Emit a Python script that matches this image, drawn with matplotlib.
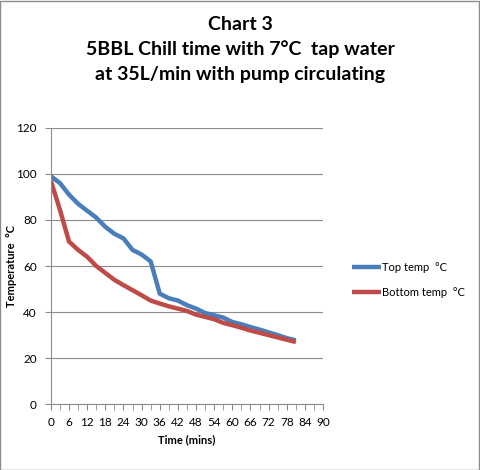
import matplotlib
matplotlib.use("Agg")
import matplotlib.pyplot as plt
import numpy as np

plt.rcParams['font.family'] = ['Lato', 'DejaVu Sans']

# data, one reading every 3 minutes
time_mins = [0, 3, 6, 9, 12, 15, 18, 21, 24, 27, 30, 33, 36, 39, 42, 45, 48, 51,
             54, 57, 60, 63, 66, 69, 72, 75, 78, 81]
top_temp = [99, 96, 91, 87, 84, 81, 77, 74, 72, 67, 65, 62, 48, 46, 45, 43, 41.5, 39.6,
            38.6, 37.6, 35.7, 34.7, 33.5, 32.4, 31.2, 30, 28.7, 27.7]
bottom_temp = [97, 84.4, 70.6, 67, 64, 60, 57, 54, 51.7, 49.5, 47.3, 45, 43.7, 42.5, 41.5,
               40.5, 38.9, 37.9, 36.9, 35.3, 34.3, 33.2, 32, 31, 30, 29, 28, 27]
x_tick_labels = [str(v) for v in range(0, 91, 6)]

fig = plt.figure(figsize=(4.8, 4.7), dpi=100)
ax = fig.add_axes([0.106, 0.140, 0.567, 0.588])

ax.plot(time_mins, top_temp, color="#4A7EBB", lw=3.2, label="Top temp  °C",
        solid_capstyle="butt")
ax.plot(time_mins, bottom_temp, color="#BE4B48", lw=3.2, label="Bottom temp  °C",
        solid_capstyle="butt")

ax.set_xlim(0, 90)
ax.set_ylim(0, 120)
ax.set_yticks(np.arange(0, 121, 20))
ax.set_xticks(np.arange(0, 91, 6))
ax.set_xticklabels(x_tick_labels)
ax.set_xticks(np.arange(0, 91, 3), minor=True)

ax.grid(axis="y", color="#8c8c8c", lw=0.8)
ax.set_axisbelow(True)
for s in ["top", "right"]:
    ax.spines[s].set_visible(False)
ax.spines["left"].set_color("#8c8c8c")
ax.spines["bottom"].set_color("#8c8c8c")
ax.tick_params(axis="both", which="both", color="#8c8c8c", labelsize=8.5, length=4)
ax.tick_params(axis="y", pad=6)
ax.tick_params(axis="x", pad=5)

ax.set_xlabel("Time (mins)", fontsize=8, fontweight="bold", labelpad=5)
ax.set_ylabel("Temperature  °C", fontsize=8, fontweight="bold")
ax.yaxis.set_label_coords(-0.125, 0.5)

fig.suptitle("Chart 3\n5BBL Chill time with 7°C  tap water\nat 35L/min with pump circulating",
             x=0.5, y=0.967, fontsize=14, fontweight="bold", linespacing=1.55)

ax.legend(loc="center left", bbox_to_anchor=(1.07, 0.45), frameon=False, fontsize=8,
          handlelength=2.6, handletextpad=0.1, labelspacing=1.3)

fig.patches.append(plt.Rectangle((0.001, 0.001), 0.997, 0.997, transform=fig.transFigure,
                                 fill=False, edgecolor="#8c8c8c", lw=1))

fig.savefig("out.png", dpi=100)
